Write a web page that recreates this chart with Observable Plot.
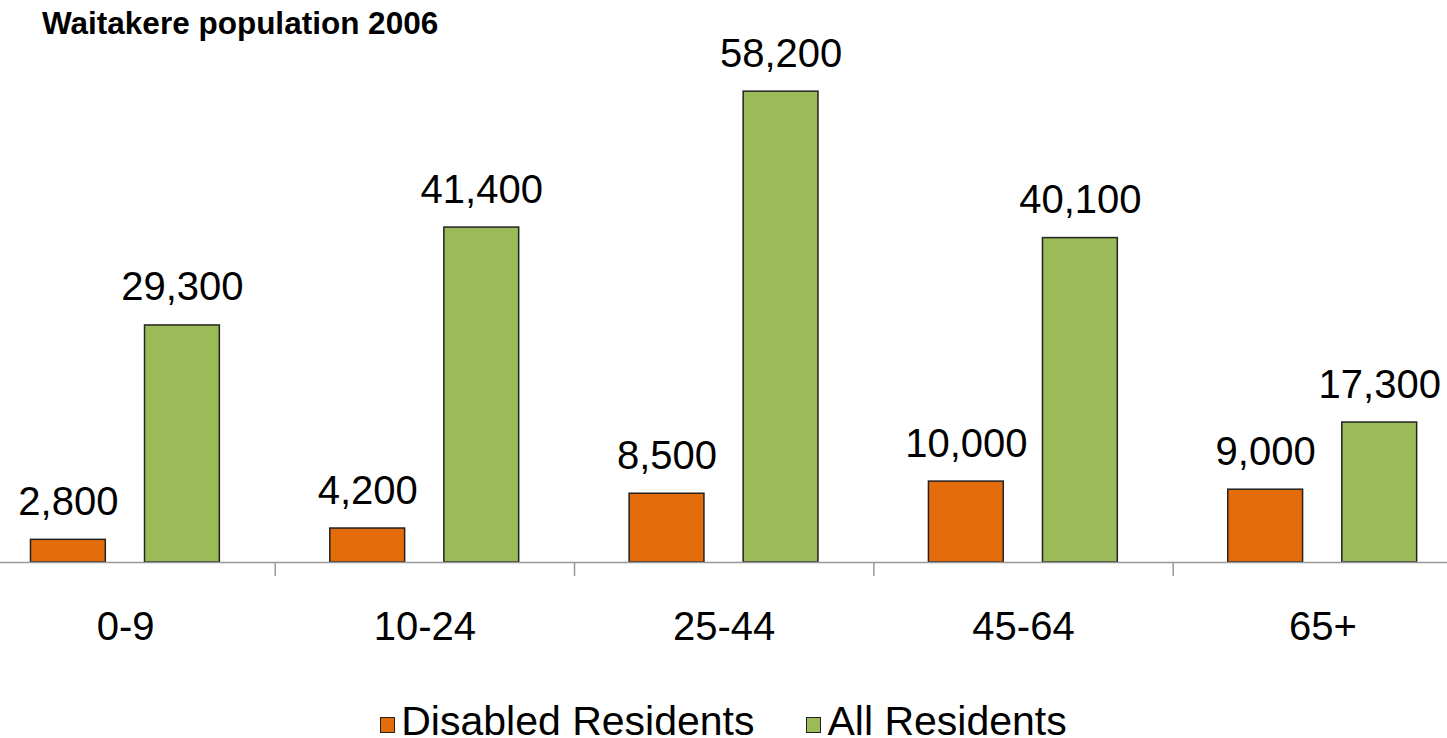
<!DOCTYPE html>
<html>
<head>
<meta charset="utf-8">
<script src="https://cdn.jsdelivr.net/npm/d3@7"></script>
<script src="https://cdn.jsdelivr.net/npm/@observablehq/plot@0.6"></script>
<style>
  html, body { margin: 0; padding: 0; background: #fff; }
  body { width: 1447px; height: 738px; position: relative; overflow: hidden;
         font-family: "Liberation Sans", Arial, sans-serif; }
  #title { position: absolute; left: 42px; top: 8px; font-size: 31.5px; line-height: 30px;
           font-weight: bold; color: #000; white-space: nowrap; }
  #legend { position: absolute; left: 0; width: 1447px; top: 701px; font-size: 41px; line-height: 40px;
            color: #000; display: flex; justify-content: center; gap: 52px; white-space: nowrap; }
  #legend .item { display: flex; align-items: center; }
  #legend .sw { display: inline-block; width: 13px; height: 14px; border: 1.5px solid #222;
                margin-right: 6px; margin-top: 8px; }
  #chart { position: absolute; left: 0; top: 0; }
</style>
</head>
<body>
<div id="title">Waitakere population 2006</div>
<div id="chart"></div>
<div id="legend"></div>
<script>
// ---- data ----
const ages = ["0-9", "10-24", "25-44", "45-64", "65+"];
const series = ["Disabled Residents", "All Residents"];
const disabledResidents = [2800, 4200, 8500, 10000, 9000];
const allResidents = [29300, 41400, 58200, 40100, 17300];
const colors = ["#E46C0A", "#9BBB59"];

// ---- layout (bar placement within each age group, as fraction of group width) ----
const barSpan = {
  "Disabled Residents": [0.184, 0.434],
  "All Residents": [0.565, 0.815]
};

const rows = [];
ages.forEach((age, i) => {
  rows.push({age, i, series: series[0], value: disabledResidents[i]});
  rows.push({age, i, series: series[1], value: allResidents[i]});
});

const fmt = d3.format(",");

const chart = Plot.plot({
  width: 1447,
  height: 738,
  marginTop: 76.6,
  marginBottom: 176,
  marginLeft: -24.6,
  marginRight: -25,
  style: {fontFamily: "'Liberation Sans', Arial, sans-serif", background: "transparent"},
  x: {type: "linear", domain: [0, ages.length], axis: null},
  y: {domain: [0, 60000], axis: null},
  color: {domain: series, range: colors},
  marks: [
    Plot.rectY(rows, {
      x1: d => d.i + barSpan[d.series][0],
      x2: d => d.i + barSpan[d.series][1],
      y: "value",
      fill: "series",
      stroke: "#222",
      strokeWidth: 1.5
    }),
    Plot.ruleY([0], {stroke: "#999", strokeWidth: 1.5}),
    Plot.axisX({
      ticks: d3.range(1, ages.length),
      tickFormat: () => "",
      tickSize: 14,
      stroke: "#999",
      strokeWidth: 1.5
    }),
    Plot.axisX({
      ticks: d3.range(ages.length).map(i => i + 0.5),
      tickFormat: t => ages[Math.floor(t)],
      tickSize: 0,
      tickPadding: 49,
      fontSize: 40,
      fill: "#000"
    }),
    Plot.text(rows, {
      x: d => d.i + (barSpan[d.series][0] + barSpan[d.series][1]) / 2,
      y: "value",
      text: d => fmt(d.value),
      fontSize: 40,
      lineAnchor: "bottom",
      dy: -25,
      fill: "#000"
    })
  ]
});
document.getElementById("chart").appendChild(chart);

// legend
const legend = document.getElementById("legend");
series.forEach((s, k) => {
  const item = document.createElement("div");
  item.className = "item";
  const sw = document.createElement("span");
  sw.className = "sw";
  sw.style.background = colors[k];
  const label = document.createElement("span");
  label.textContent = s;
  item.appendChild(sw);
  item.appendChild(label);
  legend.appendChild(item);
});
</script>
</body>
</html>
